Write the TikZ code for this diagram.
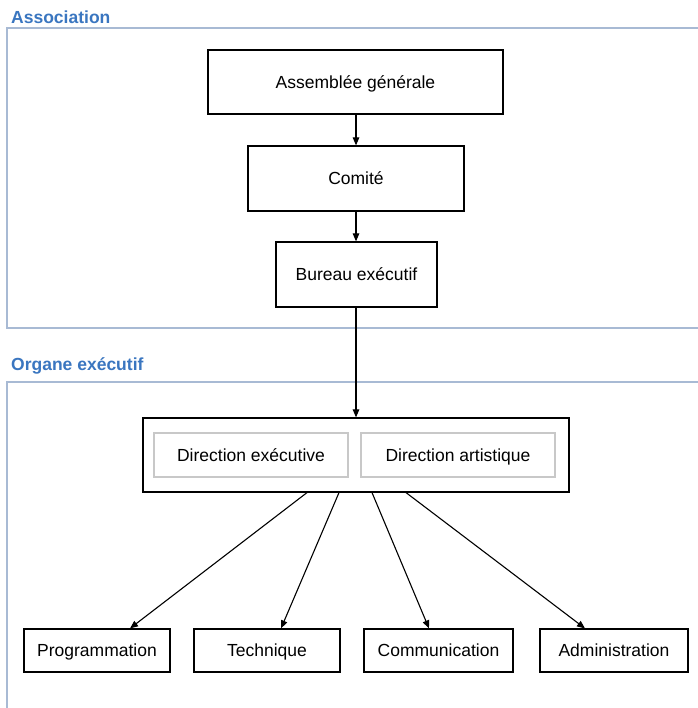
\documentclass[tikz,border=0pt]{standalone}
\usepackage{fontspec}
\setmainfont{Liberation Sans}
\usetikzlibrary{arrows.meta}
\definecolor{framecol}{RGB}{168,186,212}
\definecolor{labelcol}{RGB}{58,118,192}
\definecolor{innercol}{RGB}{200,200,200}
\begin{document}
\begin{tikzpicture}[x=1pt,y=-1pt,
  txt/.style={font=\fontsize{17.5}{20}\selectfont,text height=12.6pt,text depth=0pt},
  box/.style={txt,draw=black,line width=1.2pt,fill=white,inner sep=0pt,
    preaction={draw=black!30,line width=1pt,transform canvas={xshift=0.8pt,yshift=-0.8pt}}},
  inbox/.style={txt,draw=innercol,line width=1.2pt,fill=white,inner sep=0pt,
    minimum width=194pt,minimum height=44pt},
  low/.style={box,minimum height=43pt},
  frame/.style={draw=framecol,line width=1.5pt},
  grp/.style={font=\bfseries\fontsize{17.5}{20}\selectfont,text=labelcol,anchor=west,inner sep=0pt},
  arr/.style={draw=black,line width=1.1pt,-{Triangle[length=8pt,width=6.5pt]}}
]
\useasboundingbox (0,0) rectangle (697,708);
\fill[white] (0,0) rectangle (697,708);
% frames
\draw[frame] (700,28) -- (7,28) -- (7,328) -- (700,328);
\draw[frame] (700,382) -- (7,382) -- (7,712);
\node[grp] (lassoc) at (11,17) {Association};
\node[grp] (lorg) at (11,366) {Organe exécutif};
% top chain
\node[box,minimum width=295pt,minimum height=64pt] (ag) at (355.5,82) {Assemblée générale};
\node[box,minimum width=216pt,minimum height=65pt] (com) at (356,178.5) {Comité};
\node[box,minimum width=161pt,minimum height=65pt] (bur) at (356.5,274.5) {Bureau exécutif};
% directions
\node[box,minimum width=426pt,minimum height=74pt] (dir) at (356,455) {};
\node[inbox] (dexe) at (251,455) {Direction exécutive};
\node[inbox] (dart) at (458,455) {Direction artistique};
% bottom
\node[low,minimum width=146pt] (prog) at (97,650.5) {Programmation};
\node[low,minimum width=146pt] (tech) at (267,650.5) {Technique};
\node[low,minimum width=149pt] (comm) at (438.5,650.5) {Communication};
\node[low,minimum width=148pt] (adm) at (614,650.5) {Administration};
% arrows
\draw[arr] (ag.south -| com.north) -- (com.north);
\draw[arr] (com.south) -- (com.south |- bur.north);
\draw[arr] (bur.south -| dir.north) -- (dir.north);
\draw[arr] ([xshift=-49pt]dir.south) -- ([xshift=33pt]prog.north);
\draw[arr] ([xshift=-17pt]dir.south) -- ([xshift=14pt]tech.north);
\draw[arr] ([xshift=16pt]dir.south) -- ([xshift=-9.5pt]comm.north);
\draw[arr] ([xshift=50pt]dir.south) -- ([xshift=-29pt]adm.north);
\end{tikzpicture}
\end{document}
